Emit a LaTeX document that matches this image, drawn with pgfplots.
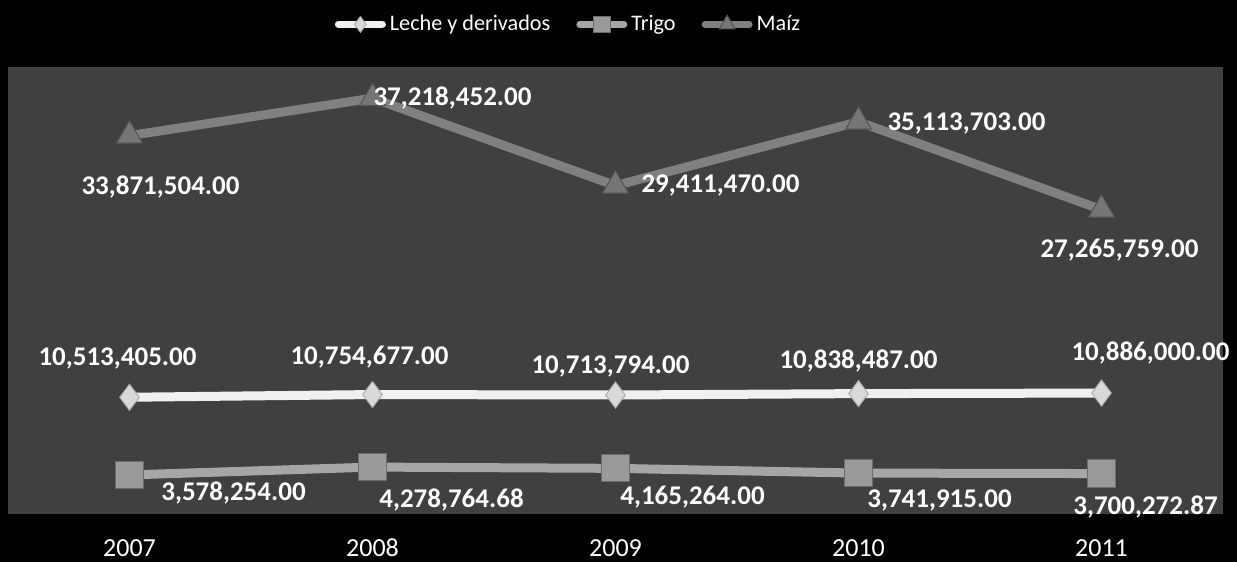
\documentclass[border=0pt]{standalone}
\usepackage{pgfplots}
\pgfplotsset{compat=1.18}
\usepackage{pgfplotstable}
\usepackage{fontspec}
\setmainfont{Carlito}

\definecolor{plotbg}{HTML}{404040}
\definecolor{lecheline}{HTML}{F0F0F0}
\definecolor{lechemark}{HTML}{D9D9D9}
\definecolor{trigoline}{HTML}{A6A6A6}
\definecolor{trigomark}{HTML}{9A9A9A}
\definecolor{maizline}{HTML}{808080}
\definecolor{maizmark}{HTML}{767676}
\definecolor{baseline}{HTML}{8C8C8C}

% x y label  label-shift (pt)
\pgfplotstableread{
x y lab dx dy
0 10513405 10,513,405.00 -6 19.5
1 10754677 10,754,677.00 -1.5 18.5
2 10713794 10,713,794.00 -2.5 14.5
3 10838487 10,838,487.00 0 16.5
4 10886000 10,886,000.00 24.5 20
}\leche
\pgfplotstableread{
x y lab dx dy
0 3578254 3,578,254.00 52 -9
1 4278764.68 4,278,764.68 39.5 -16.5
2 4165264 4,165,264.00 38.5 -14.5
3 3741915 3,741,915.00 40.5 -13.5
4 3700272.87 3,700,272.87 22 -16.5
}\trigo
\pgfplotstableread{
x y lab dx dy
0 33871504 33,871,504.00 15.5 -25.5
1 37218452 37,218,452.00 40 0
2 29411470 29,411,470.00 52.5 0
3 35113703 35,113,703.00 54 -1
4 27265759 27,265,759.00 9 -20
}\maiz

\begin{document}
\begin{tikzpicture}
\fill[black] (0,0) rectangle (618.5pt,281pt);
\begin{axis}[
  at={(4pt,23.5pt)}, anchor=south west,
  width=607.5pt, height=224pt, scale only axis,
  axis background/.style={fill=plotbg},
  xmin=-0.5, xmax=4.5, ymin=0, ymax=40000000,
  xtick={0,1,2,3,4},
  xticklabels={2007,2008,2009,2010,2011},
  ytick=\empty,
  major tick length=0pt,
  axis x line*=bottom,
  hide y axis,
  x axis line style={baseline, line width=1pt},
  x tick label style={font=\fontsize{13}{15}\selectfont, text=white,
    anchor=base, yshift=-20.5pt},
  clip=false,
  legend columns=3,
  legend style={at={(0.5,1)}, anchor=south, xshift=-23pt, yshift=14.5pt,
    draw=none, fill=none, text=white, font=\fontsize{11.1}{13}\selectfont,
    inner sep=0pt, /tikz/every even column/.append style={column sep=11pt}},
  legend image code/.code={
    \draw[#1, mark=none, line width=3.5pt, line cap=round] (1.5pt,0pt) -- (23.5pt,0pt);
    \draw[#1, line width=0pt, draw=none, every mark/.append style={scale=0.6}]
      plot coordinates {(12.5pt,0pt)};
  },
  point meta=explicit symbolic,
  nodes near coords,
  visualization depends on={\thisrow{dx}\as\dx},
  visualization depends on={\thisrow{dy}\as\dy},
  every node near coord/.append style={anchor=center, text=white,
    font=\fontsize{13.5}{15}\selectfont\bfseries, xshift=\dx pt, yshift=\dy pt},
]
\addplot[lecheline, line width=4.5pt, mark=diamond*,
  mark options={solid, fill=lechemark, draw=lechemark!80!black, line width=0.5pt, mark size=6.5pt}]
  table[x=x, y=y, meta=lab] {\leche};
\addlegendentry{Leche y derivados}
\addplot[trigoline, line width=4.5pt, mark=square*,
  mark options={solid, fill=trigomark, draw=trigomark!70!black, line width=0.5pt, mark size=6.8pt}]
  table[x=x, y=y, meta=lab] {\trigo};
\addlegendentry{Trigo}
\addplot[maizline, line width=4.5pt, mark=triangle*,
  mark options={solid, fill=maizmark, draw=maizmark!70!black, line width=0.5pt, mark size=7.5pt}]
  table[x=x, y=y, meta=lab] {\maiz};
\addlegendentry{Maíz}
\end{axis}
\end{tikzpicture}
\end{document}
